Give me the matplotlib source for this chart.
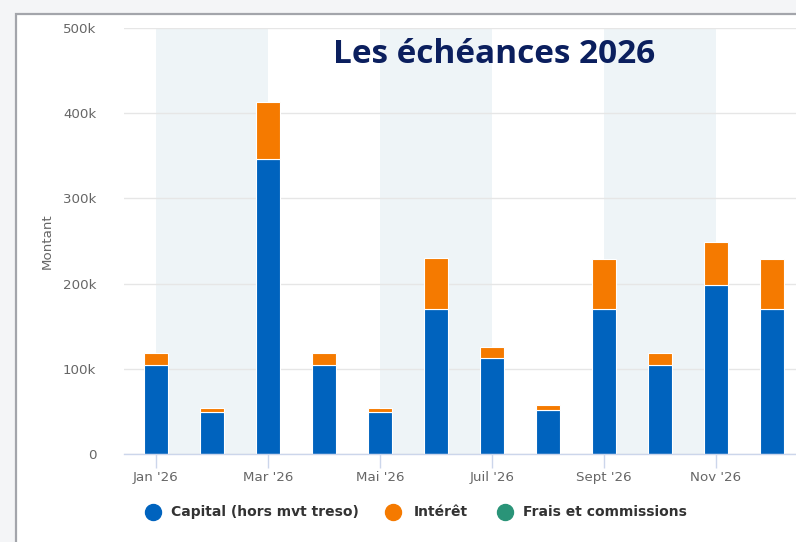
import matplotlib
matplotlib.use("Agg")
import matplotlib.pyplot as plt
from matplotlib.patches import Rectangle
from matplotlib.lines import Line2D
from matplotlib.ticker import FuncFormatter

months = ["Jan '26", "Fév '26", "Mar '26", "Avr '26", "Mai '26", "Juin '26",
          "Juil '26", "Août '26", "Sept '26", "Oct '26", "Nov '26", "Déc '26"]
capital = [105000, 49000, 346000, 105000, 49000, 170000,
           113000, 52000, 170000, 105000, 198000, 170000]
interet = [13000, 5000, 67000, 13000, 5000, 60000,
           13000, 5000, 59000, 13000, 51000, 59000]
frais = [0] * 12
series_names = ["Capital (hors mvt treso)", "Intérêt", "Frais et commissions"]
colors = ["#0063be", "#f57a00", "#2a9478"]
title = "Les échéances 2026"
y_label = "Montant"

W, H = 796, 542
fig = plt.figure(figsize=(W / 100, H / 100), dpi=100)
fig.patch.set_facecolor("#f4f5f7")

# white card with gray frame
fig.add_artist(Rectangle((16 / W, -0.05), 1.1, (1 - 14 / H) + 0.05,
                         transform=fig.transFigure, facecolor="white",
                         edgecolor="#a3a5ab", linewidth=1.6, zorder=0))

ax = fig.add_axes([124 / W, 1 - 454 / H, 1 - 124 / W, (454 - 28) / H])
ax.set_facecolor("none")
x = list(range(len(months)))

for s in (0, 4, 8):
    ax.axvspan(s, s + 2, color="#eef4f7", zorder=0, lw=0)

bw = 0.43
ax.bar(x, capital, width=bw, color=colors[0], edgecolor="white", linewidth=0.8, zorder=3)
bottoms = capital
ax.bar(x, interet, width=bw, bottom=bottoms, color=colors[1], edgecolor="white", linewidth=0.8, zorder=3)
bottoms2 = [c + i for c, i in zip(capital, interet)]
ax.bar(x, frais, width=bw, bottom=bottoms2, color=colors[2], edgecolor="white", linewidth=0.0, zorder=3)

ax.set_xlim(-0.57, 11.43)
ax.set_ylim(0, 500000)
ax.set_yticks(range(0, 500001, 100000))
ax.yaxis.set_major_formatter(FuncFormatter(lambda v, p: "0" if v == 0 else f"{int(v/1000)}k"))
ax.grid(axis="y", color="#e6e6e6", linewidth=1, zorder=1)
ax.set_axisbelow(True)

ax.set_xticks(x[::2])
ax.set_xticklabels(months[::2])
for sp in ("top", "right", "left"):
    ax.spines[sp].set_visible(False)
ax.spines["bottom"].set_color("#ccd6eb")
ax.spines["bottom"].set_linewidth(1)
ax.spines["bottom"].set_zorder(4)

ax.tick_params(axis="x", length=10, width=1, color="#ccd6eb", labelsize=9.6,
               labelcolor="#666666", pad=2)
ax.tick_params(axis="y", length=0, labelsize=9.6, labelcolor="#666666", pad=20)
for lab in ax.get_xticklabels() + ax.get_yticklabels():
    lab.set_fontfamily("DejaVu Sans")

fig.text(47 / W, 1 - 241 / H, y_label, rotation=90, ha="center", va="center",
         fontsize=9.6, color="#666666", family="DejaVu Sans")

fig.text(494 / W, 1 - 63 / H, title, ha="center", va="baseline",
         fontsize=24, fontweight="bold", color="#0b1f5e", family="Open Sans")

# legend
leg_y = 1 - 512 / H
items = [(153, 171), (393, 414), (505, 523)]
for (cx, tx), name, col in zip(items, series_names, colors):
    fig.add_artist(Line2D([cx / W], [leg_y], transform=fig.transFigure, marker="o",
                          markersize=11.5, color=col, linestyle="none"))
    fig.text(tx / W, leg_y, name, ha="left", va="center", fontsize=10,
             fontweight="bold", color="#333333", family="DejaVu Sans")

fig.savefig("out.png", dpi=100, facecolor=fig.get_facecolor())
